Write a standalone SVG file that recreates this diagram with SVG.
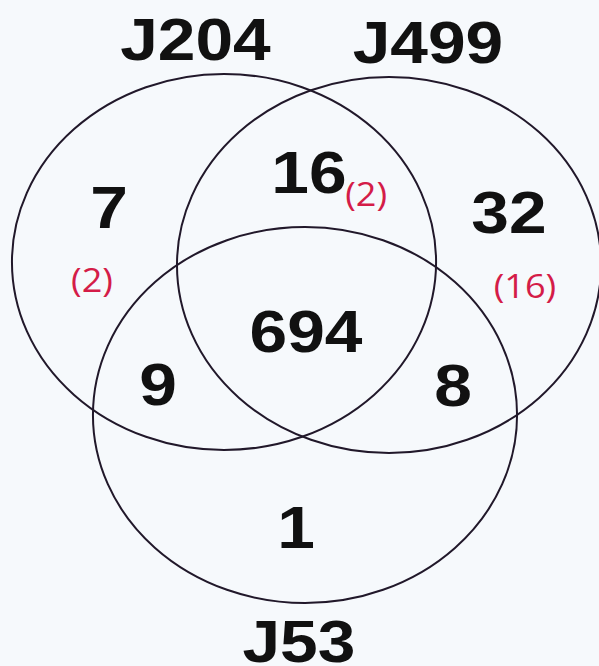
<svg xmlns="http://www.w3.org/2000/svg" width="599" height="666" viewBox="0 0 599 666">
<style>
.c{fill:none;stroke:#21182a;stroke-width:2;vector-effect:non-scaling-stroke}
.b{font-family:"Liberation Sans",Arial,sans-serif;font-weight:bold;font-size:60px;fill:#111;text-anchor:middle}
.r{font-family:"Open Sans","Noto Sans",sans-serif;font-size:32px;fill:#d41c48;text-anchor:middle}
</style>
<rect width="599" height="666" fill="#f6f9fc"/>
<g transform="scale(1.128,1)">
<g id="sets">
<g id="J204"><ellipse class="c" cx="198.6" cy="262" rx="188" ry="188"/><text class="b" x="173.3" y="60">J204</text></g>
<g id="J499"><ellipse class="c" cx="344.9" cy="265" rx="188" ry="188"/><text class="b" x="379.4" y="63">J499</text></g>
<g id="J53"><ellipse class="c" cx="270.4" cy="415" rx="188" ry="188"/><text class="b" x="265" y="662">J53</text></g>
</g>
<g id="counts">
<text class="b" x="96.6" y="228">7</text>
<text class="b" x="273.9" y="193">16</text>
<text class="b" x="451.2" y="233">32</text>
<text class="b" x="271.3" y="352">694</text>
<text class="b" x="140.1" y="405">9</text>
<text class="b" x="401.6" y="406">8</text>
<text class="b" x="262.4" y="548">1</text>
<text class="r" x="306" y="206" style="text-anchor:start">(2)</text>
<text class="r" x="81.6" y="292">(2)</text>
<text class="r" x="465.4" y="298">(16)</text>
</g>
</g>
</svg>
